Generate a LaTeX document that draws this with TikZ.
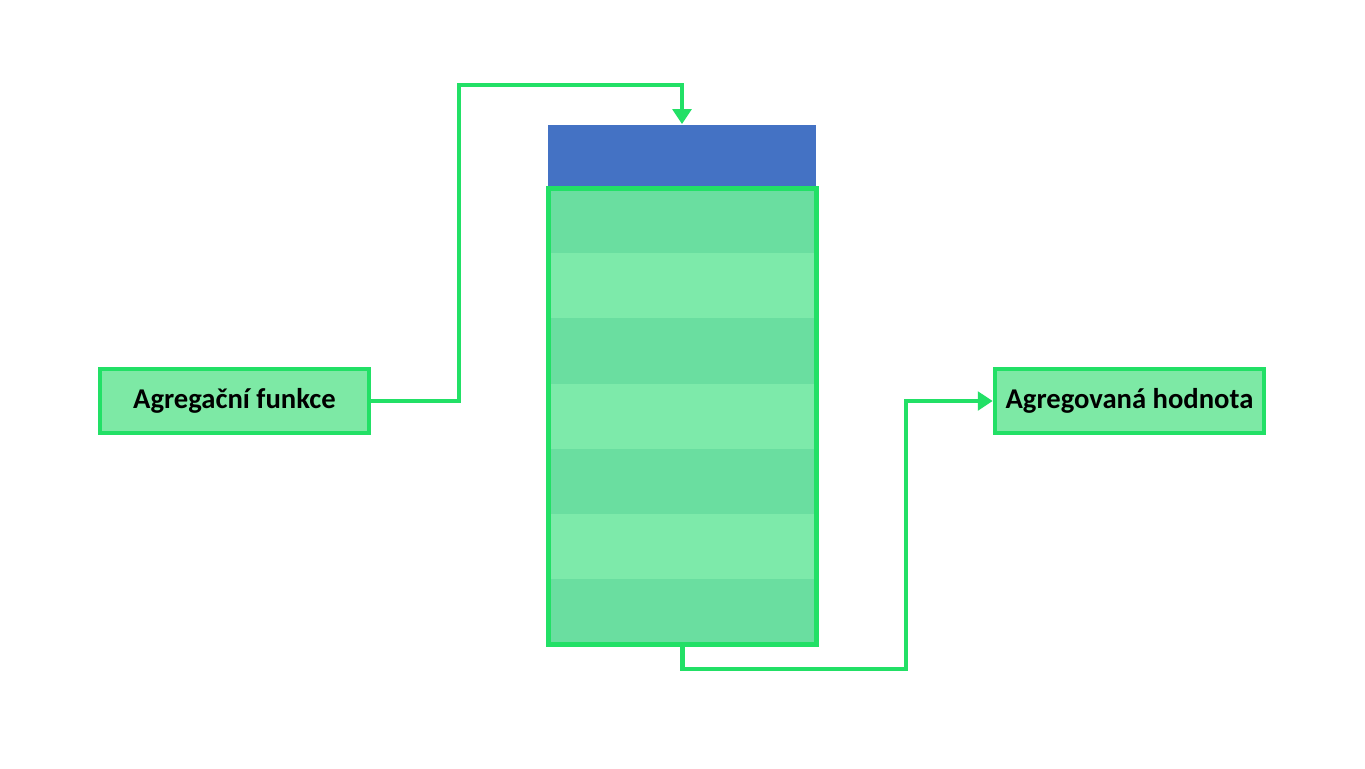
\documentclass[tikz,border=0pt]{standalone}
\usepackage{fontspec}
\setmainfont{Carlito}
\usetikzlibrary{arrows.meta}

\definecolor{edgegreen}{RGB}{34,224,102}
\definecolor{boxgreen}{RGB}{125,233,165}
\definecolor{rowdark}{RGB}{106,222,160}
\definecolor{rowlight}{RGB}{125,234,170}
\definecolor{headblue}{RGB}{68,114,196}

\tikzset{
    box/.style={draw=edgegreen, fill=boxgreen, line width=2.6pt, minimum width=5.38cm, minimum height=1.28cm, font=\bfseries\fontsize{16.3}{18}\selectfont},
    flow/.style={draw=edgegreen, line width=2.5pt, -{Triangle[width=10.5pt,length=8.5pt]}},
}

\begin{document}
\begin{tikzpicture}[x=0.02cm, y=-0.02cm]
        \useasboundingbox[fill=white] (0,0) rectangle (1365,768);

        % header of the table
        \node[fill=headblue, minimum width=5.36cm, minimum height=1.26cm, inner sep=0pt] (head) at (682,156) {};

        % rows
        \foreach \i/\c in {0/rowdark,1/rowlight,2/rowdark,3/rowlight,4/rowdark,5/rowlight,6/rowdark}
            \fill[\c] (548,{188+\i*65.2}) rectangle (817,{188+(\i+1)*65.2});
        \node[draw=edgegreen, line width=2.8pt, minimum width=5.36cm, minimum height=9.12cm, inner sep=0pt] (tbl) at (682.5,416.5) {};

        \node[box] (func) at (234.5,401) {Agregační funkce};
        \node[box] (value) at (1129.5,401) {Agregovaná hodnota};

        \coordinate (up) at (459,85);
        \coordinate (down) at (906,669);

        \draw[flow] (func.east) -| (up) -| (head.north);
        \draw[flow] (tbl.south) |- (down) |- (value.west);
    \end{tikzpicture}
\end{document}
